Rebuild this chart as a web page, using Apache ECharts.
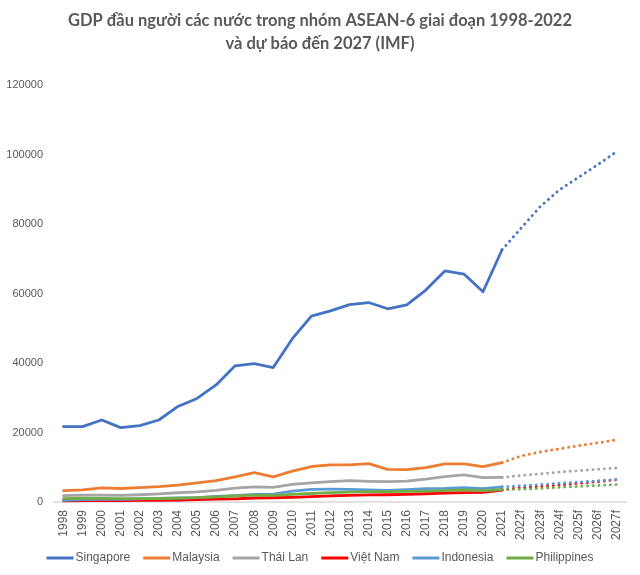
<!DOCTYPE html>
<html>
<head>
<meta charset="utf-8">
<script src="https://cdn.jsdelivr.net/npm/echarts@6/dist/echarts.min.js"></script>
<style>html,body{margin:0;padding:0;background:#fff}#c{width:640px;height:575px}</style>
</head>
<body>
<div id="c"></div>
<script>
var categories = ['1998','1999','2000','2001','2002','2003','2004','2005','2006','2007','2008','2009','2010','2011','2012','2013','2014','2015','2016','2017','2018','2019','2020','2021','2022f','2023f','2024f','2025f','2026f','2027f'];
var countries = ['Singapore','Malaysia','Thái Lan','Việt Nam','Indonesia','Philippines'];
var colors = ['#4472C4','#ED7D31','#A5A5A5','#FF0000','#5B9BD5','#70AD47'];
var yTicks = [0,20000,40000,60000,80000,100000,120000];

// historical 1998-2021
var singaporeHist = [21700,21700,23600,21400,22000,23600,27500,29800,33700,39200,39800,38700,47000,53500,55000,56800,57400,55600,56700,61000,66500,65600,60500,72600];
var malaysiaHist  = [3260,3480,4040,3880,4130,4400,4880,5530,6150,7210,8470,7210,8880,10210,10660,10680,11050,9400,9300,9900,11000,11000,10200,11300];
var thaiHist      = [1830,2000,2000,1890,2090,2350,2660,2890,3350,3970,4380,4210,5080,5490,5860,6170,5950,5840,5990,6590,7300,7810,7000,7070];
var vietnamHist   = [360,370,400,420,440,490,560,690,800,920,1150,1220,1330,1540,1760,1900,2050,2090,2190,2370,2570,2720,2780,3450];
var indonesiaHist = [460,680,780,750,900,1070,1150,1260,1590,1860,2170,2260,3120,3640,3690,3620,3490,3330,3560,3840,3900,4150,3870,4330];
var philHist      = [970,1080,1040,950,1000,1010,1090,1240,1450,1740,1990,1890,2210,2450,2690,2870,2960,3000,3070,3120,3250,3490,3300,3550];

// forecasts 2022f-2027f
var singaporeFc = [78800,85000,89800,93400,97000,100800];
var malaysiaFc  = [13270,14400,15300,16200,17000,17900];
var thaiFc      = [7630,8100,8600,9000,9400,9800];
var vietnamFc   = [4160,4480,4900,5350,5850,6400];
var indonesiaFc = [4690,5000,5400,5700,6100,6500];
var philFc      = [3680,3900,4200,4450,4750,5000];

var hist = [singaporeHist, malaysiaHist, thaiHist, vietnamHist, indonesiaHist, philHist];
var fc = [singaporeFc, malaysiaFc, thaiFc, vietnamFc, indonesiaFc, philFc];

var series = [];
countries.forEach(function(name, i){
  var h = hist[i].slice();
  while (h.length < categories.length) h.push(null);
  series.push({
    name: name, type: 'line', data: h, showSymbol: false, symbol: 'none',
    color: colors[i], lineStyle: {width: 2.8, color: colors[i], cap:'round', join:'round'},
    z: 3, animation: false
  });
});
countries.forEach(function(name, i){
  var d = [];
  for (var k = 0; k < hist[i].length - 1; k++) d.push(null);
  d.push(hist[i][hist[i].length - 1]);
  fc[i].forEach(function(v){ d.push(v); });
  series.push({
    name: name, type: 'line', data: d, showSymbol: false, symbol: 'none',
    color: colors[i], lineStyle: {width: 2.9, color: colors[i], type: [0.1, 5.6], cap: 'round'},
    z: 2, animation: false
  });
});

var chart = echarts.init(document.getElementById('c'), null, {renderer: 'canvas'});
chart.setOption({
  animation: false,
  title: {
    text: 'GDP đầu người các nước trong nhóm ASEAN-6 giai đoạn 1998-2022\nvà dự báo đến 2027 (IMF)',
    left: 'center', top: 4,
    textStyle: {fontFamily: 'Lato', fontWeight: 'bold', fontSize: 16.5, color: '#595959', lineHeight: 23}
  },
  legend: {
    data: countries, bottom: 6, left: 'center',
    icon: 'rect', itemWidth: 27, itemHeight: 3, itemGap: 13,
    textStyle: {fontFamily: 'Liberation Sans', fontSize: 12, color: '#595959', padding: [0,0,0,-3]}
  },
  grid: {left: 54, right: 14, top: 85, bottom: 73, containLabel: false},
  xAxis: {
    type: 'category', data: categories, boundaryGap: true,
    axisLine: {lineStyle: {color: '#D9D9D9', width: 1.5}},
    axisTick: {show: false},
    axisLabel: {rotate: 90, interval: 0, margin: 8, fontFamily: 'Liberation Sans', fontSize: 12, color: '#595959'}
  },
  yAxis: {
    type: 'value', min: yTicks[0], max: yTicks[yTicks.length-1], interval: 20000,
    axisLine: {show: false}, axisTick: {show: false},
    splitLine: {show: false},
    axisLabel: {margin: 11, fontFamily: 'Liberation Sans', fontSize: 11, color: '#595959',
      formatter: function(v){ return String(v); }}
  },
  series: series
});
</script>
</body>
</html>
